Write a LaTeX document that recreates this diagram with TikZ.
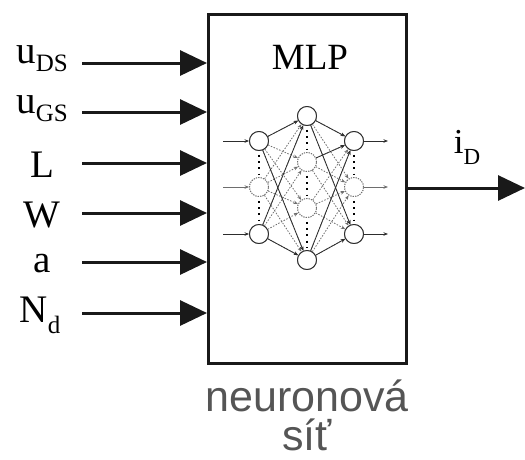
\documentclass[tikz,border=0pt]{standalone}
\usepackage{fontspec}
\setmainfont{Liberation Serif}
\newfontfamily\labsans{Liberation Sans}
\usetikzlibrary{arrows.meta}
\definecolor{capgray}{RGB}{85,85,85}
\definecolor{netgray}{RGB}{45,45,45}
\definecolor{dotgray}{RGB}{110,110,110}
\tikzset{
  bigarrow/.style={line width=3pt, draw=black!90, -{Triangle[length=27pt,width=25pt]}},
  lab/.style={anchor=base, inner sep=0pt, font=\fontsize{39}{39}\selectfont},
  neur/.style={circle, draw=netgray, line width=0.9pt, minimum size=19pt, inner sep=0pt, fill=white},
  dneur/.style={circle, draw=dotgray, line width=0.9pt, dash pattern=on 1.2pt off 1.2pt, minimum size=19pt, inner sep=0pt, fill=white},
  sconn/.style={draw=netgray, line width=0.8pt, -{Stealth[length=4.5pt,width=3.5pt]}},
  dconn/.style={draw=dotgray, line width=0.8pt, dash pattern=on 1.5pt off 1.5pt, -{Stealth[length=4.5pt,width=3.5pt]}},
  vdots/.style={draw=black, line width=2pt, dash pattern=on 2pt off 4.2pt},
}
\newcommand{\subx}[2]{\raisebox{-#1pt}{\fontsize{25}{25}\selectfont #2}}
\begin{document}
\begin{tikzpicture}[x=1pt,y=-1pt]
\useasboundingbox (0,0) rectangle (525,459);
% main box
\node[draw=black!90, line width=3pt, minimum width=198pt, minimum height=349pt, inner sep=0pt, anchor=north west] (box) at (207,13) {};
\node[lab, font=\fontsize{37}{37}\selectfont] (mlp) at (310,69) {MLP};
% input labels
\node[lab] (uds) at (42,63) {u\subx{8}{DS}};
\node[lab] (ugs) at (42,113) {u\subx{8}{GS}};
\node[lab] (l) at (42,177) {L};
\node[lab] (w) at (42,227) {W};
\node[lab] (a) at (42,272) {a};
\node[lab] (nd) at (40,322) {N\subx{11}{d}};
% input arrows
\foreach \n/\y in {s1/63,s2/112,s3/163,s4/213,s5/262,s6/313}{
  \coordinate (\n) at (82,\y);
  \draw[bigarrow] (\n) -- (\n -| box.west);
}
% output
\coordinate (outend) at (525,188);
\draw[bigarrow] (box.east |- outend) -- (outend);
\node[lab, font=\fontsize{35}{35}\selectfont] (id) at (467,153) {i{\raisebox{-11pt}{\fontsize{23}{23}\selectfont D}}};
% caption
\node[anchor=base, inner sep=0pt, text=capgray, font=\labsans\fontsize{43}{43}\selectfont] (cap1) at (307,411) {neuronová};
\node[anchor=base, inner sep=0pt, text=capgray, font=\labsans\fontsize{43}{43}\selectfont] (cap2) at (307,450) {síť};
% network neurons
\node[neur] (a1) at (259,141) {};
\node[dneur] (a2) at (259,187) {};
\node[neur] (a3) at (259,234) {};
\node[neur] (b1) at (307,116) {};
\node[dneur] (b2) at (307,162) {};
\node[dneur] (b3) at (307,208) {};
\node[neur] (b4) at (307,260) {};
\node[neur] (c1) at (354,141) {};
\node[dneur] (c2) at (354,187) {};
\node[neur] (c3) at (354,234) {};
% vertical dots
\foreach \u/\v in {a1/a2,a2/a3,b1/b2,b2/b3,b3/b4,c1/c2,c2/c3}{
  \draw[vdots] ([yshift=-4pt]\u.south) -- ([yshift=3pt]\v.north);
}
% connections layer 1 -> 2
\foreach \u in {a1,a2,a3}{
  \foreach \v in {b1,b2,b3,b4}{
    \draw[dconn] (\u) -- (\v);
  }
}
\foreach \u/\v in {a1/b1,a1/b4,a3/b1,a3/b4}{
  \draw[sconn] (\u) -- (\v);
}
% connections layer 2 -> 3
\foreach \u in {b1,b2,b3,b4}{
  \foreach \v in {c1,c2,c3}{
    \draw[dconn] (\u) -- (\v);
  }
}
\foreach \u/\v in {b1/c1,b1/c3,b4/c1,b4/c3,b2/c1}{
  \draw[sconn] (\u) -- (\v);
}
% redraw neurons on top
\node[neur] at (a1) {};
\node[dneur] at (a2) {};
\node[neur] at (a3) {};
\node[neur] at (b1) {};
\node[dneur] at (b2) {};
\node[dneur] at (b3) {};
\node[neur] at (b4) {};
\node[neur] at (c1) {};
\node[dneur] at (c2) {};
\node[neur] at (c3) {};
% net inputs / outputs
\foreach \n/\y in {1/141,2/187,3/234}{
  \coordinate (ni\n) at (223,\y);
  \coordinate (no\n) at (388,\y);
}
\draw[sconn] (ni1) -- (a1);
\draw[sconn, draw=dotgray] (ni2) -- (a2);
\draw[sconn] (ni3) -- (a3);
\draw[sconn] (c1) -- (no1);
\draw[sconn, draw=dotgray] (c2) -- (no2);
\draw[sconn] (c3) -- (no3);
\end{tikzpicture}
\end{document}
